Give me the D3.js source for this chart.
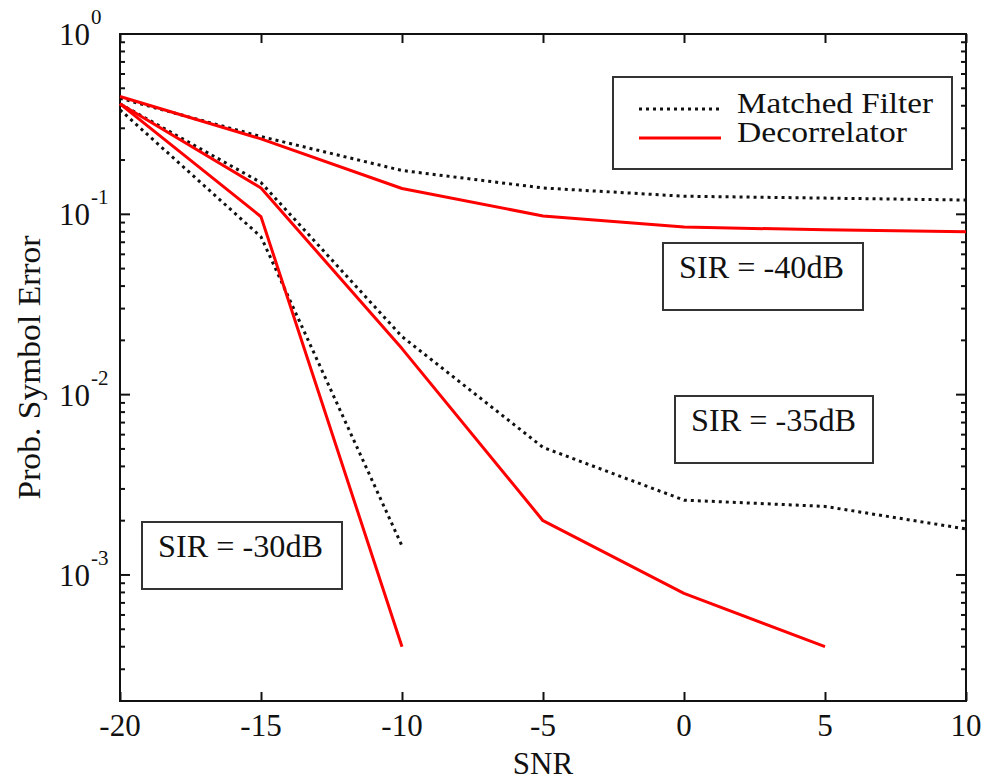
<!DOCTYPE html>
<html>
<head>
<meta charset="utf-8">
<script src="https://cdn.jsdelivr.net/npm/d3@7"></script>
<style>
  body { margin: 0; background: #fff; }
  text { font-family: "Liberation Serif", "Times New Roman", serif; fill: #111; }
</style>
</head>
<body>
<div id="chart"></div>
<script>
// SNR grid (dB)
const snr = [-20, -15, -10, -5, 0, 5, 10];

// matched filter (dotted) and decorrelator (red), per SIR
const mf40 = [0.44, 0.27, 0.175, 0.14, 0.126, 0.123, 0.12];
const dec40 = [0.45, 0.262, 0.139, 0.098, 0.085, 0.082, 0.08];
const mf35 = [0.41, 0.15, 0.021, 0.0051, 0.0026, 0.0024, 0.0018];
const dec35 = [0.41, 0.14, 0.018, 0.002, 0.00079, 0.0004];
const mf30 = [0.38, 0.075, 0.00145];
const dec30 = [0.41, 0.097, 0.0004];

const xTicks = [-20, -15, -10, -5, 0, 5, 10];
const yExps = [0, -1, -2, -3];
const legendNames = ['Matched Filter', 'Decorrelator'];
const sirLabels = ['SIR = -40dB', 'SIR = -35dB', 'SIR = -30dB'];

const width = 987, height = 780;
const margin = { left: 120, top: 34, right: 21, bottom: 79 };

const x = d3.scaleLinear()
  .domain([-20, 10])
  .range([margin.left, width - margin.right]);
const y = d3.scaleLog()
  .domain([2e-4, 1])
  .range([height - margin.bottom, margin.top]);

const svg = d3.select('#chart')
  .append('svg')
  .attr('width', width)
  .attr('height', height);

// minor + major log ticks
const majors = yExps.map(e => Math.pow(10, e));
const yAll = [];
for (let e = -4; e < 0; e++) {
  for (let m = 1; m <= 9; m++) {
    const v = m * Math.pow(10, e);
    if (v >= 2e-4 - 1e-12 && v <= 1) yAll.push(v);
  }
}
yAll.push(1);
const isMajor = v => majors.some(m => Math.abs(m - v) / m < 1e-6);

const axisStyle = g => {
  g.select('.domain').remove();
  g.selectAll('text').remove();
  g.selectAll('line').attr('stroke', '#111').attr('stroke-width', 2);
};

svg.append('g')
  .attr('transform', `translate(0,${height - margin.bottom})`)
  .call(d3.axisBottom(x).tickValues(xTicks).tickSize(-9))
  .call(axisStyle);
svg.append('g')
  .attr('transform', `translate(0,${margin.top})`)
  .call(d3.axisTop(x).tickValues(xTicks).tickSize(-9))
  .call(axisStyle);

[['left', margin.left, 1], ['right', width - margin.right, -1]].forEach(([side, px, dir]) => {
  svg.append('g').selectAll('line')
    .data(yAll)
    .join('line')
    .attr('x1', px)
    .attr('x2', d => px + dir * (isMajor(d) ? 10 : 5))
    .attr('y1', d => y(d))
    .attr('y2', d => y(d))
    .attr('stroke', '#111')
    .attr('stroke-width', 2);
});

// frame
svg.append('rect')
  .attr('x', margin.left)
  .attr('y', margin.top)
  .attr('width', width - margin.left - margin.right)
  .attr('height', height - margin.top - margin.bottom)
  .attr('fill', 'none')
  .attr('stroke', '#111')
  .attr('stroke-width', 2);

// x tick labels
svg.append('g').selectAll('text')
  .data(xTicks)
  .join('text')
  .attr('x', d => x(d))
  .attr('y', height - margin.bottom + 35)
  .attr('text-anchor', 'middle')
  .style('font-size', '31px')
  .text(d => d);

// y tick labels: 10 with superscript
const yl = svg.append('g').selectAll('g')
  .data(yExps)
  .join('g');
yl.append('text')
  .attr('x', 90)
  .attr('y', d => y(Math.pow(10, d)) + 11)
  .attr('text-anchor', 'end')
  .style('font-size', '31px')
  .text('10');
yl.append('text')
  .attr('x', 91)
  .attr('y', d => y(Math.pow(10, d)) - 10)
  .style('font-size', '21px')
  .text(d => d);

// axis titles
svg.append('text')
  .attr('x', (margin.left + width - margin.right) / 2)
  .attr('y', 774)
  .attr('text-anchor', 'middle')
  .style('font-size', '31px')
  .text('SNR');
svg.append('text')
  .attr('transform', `translate(40,${(margin.top + height - margin.bottom) / 2}) rotate(-90)`)
  .attr('text-anchor', 'middle')
  .style('font-size', '31px')
  .attr('textLength', 264)
  .attr('lengthAdjust', 'spacingAndGlyphs')
  .text('Prob. Symbol Error');

// curves
const series = [
  { vals: mf40, kind: 0 },
  { vals: mf35, kind: 0 },
  { vals: mf30, kind: 0 },
  { vals: dec40, kind: 1 },
  { vals: dec35, kind: 1 },
  { vals: dec30, kind: 1 },
];
const lineGen = d3.line()
  .x((d, i) => x(snr[i]))
  .y(d => y(d));

const styles = [
  { stroke: '#111', width: 3, dash: '3,4' },
  { stroke: '#ff0000', width: 3, dash: null },
];

svg.append('g').selectAll('path')
  .data(series)
  .join('path')
  .attr('d', d => lineGen(d.vals))
  .attr('fill', 'none')
  .attr('stroke', d => styles[d.kind].stroke)
  .attr('stroke-width', d => styles[d.kind].width)
  .attr('stroke-dasharray', d => styles[d.kind].dash)
  .attr('stroke-linejoin', 'round');

// legend
const lg = svg.append('g');
lg.append('rect')
  .attr('x', 613).attr('y', 77)
  .attr('width', 339).attr('height', 92)
  .attr('fill', '#fff')
  .attr('stroke', '#333')
  .attr('stroke-width', 2);
const legendWidths = [196, 170];
legendNames.forEach((name, i) => {
  const ly = 109 + i * 29;
  lg.append('line')
    .attr('x1', 639).attr('x2', 721)
    .attr('y1', ly).attr('y2', ly)
    .attr('stroke', styles[i].stroke)
    .attr('stroke-width', styles[i].width)
    .attr('stroke-dasharray', styles[i].dash);
  lg.append('text')
    .attr('x', 737)
    .attr('y', ly + 4)
    .style('font-size', '29px')
    .attr('textLength', legendWidths[i])
    .attr('lengthAdjust', 'spacingAndGlyphs')
    .text(name);
});

// SIR annotation boxes
const boxes = [
  { x: 663, y: 243, w: 200, h: 67 },
  { x: 675, y: 396, w: 198, h: 67 },
  { x: 142, y: 522, w: 200, h: 67 },
];
boxes.forEach((b, i) => {
  svg.append('rect')
    .attr('x', b.x).attr('y', b.y)
    .attr('width', b.w).attr('height', b.h)
    .attr('fill', '#fff')
    .attr('stroke', '#333')
    .attr('stroke-width', 2);
  svg.append('text')
    .attr('x', b.x + 16)
    .attr('y', b.y + 35)
    .style('font-size', '31px')
    .attr('textLength', 165)
    .attr('lengthAdjust', 'spacingAndGlyphs')
    .text(sirLabels[i]);
});
</script>
</body>
</html>
